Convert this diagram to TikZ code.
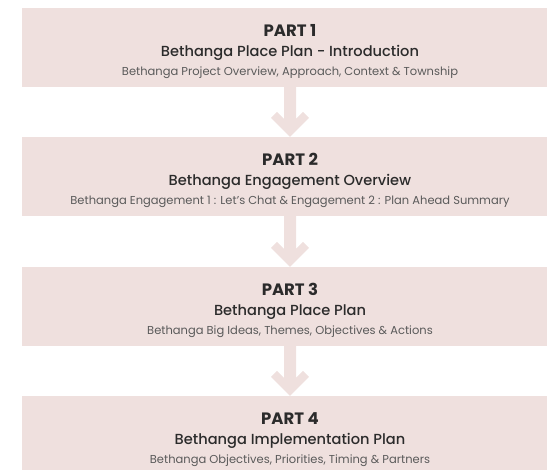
\documentclass[tikz,border=0pt]{standalone}
\usepackage{fontspec}
\setmainfont{Poppins}
\newfontfamily\mediumfont{Poppins Medium}
\usetikzlibrary{positioning}
\definecolor{partFill}{HTML}{EFE0DE}
\definecolor{titleInk}{HTML}{2B2B2B}
\definecolor{detailInk}{HTML}{5A5A5A}

\begin{document}
\begin{tikzpicture}
[x=1pt,y=-1pt,
  boxDecorate/.style={shape=rectangle,fill=partFill,inner sep=0pt,
    minimum width=536pt,minimum height=79pt},%
  titleDecorate/.style={anchor=base,inner sep=0pt,text=titleInk,
    font=\fontsize{16.5}{18}\selectfont\bfseries},%
  headingDecorate/.style={anchor=base,inner sep=0pt,text=titleInk,
    font=\fontsize{14.6}{16}\selectfont\mediumfont},%
  detailDecorate/.style={anchor=base,inner sep=0pt,text=detailInk,
    font=\fontsize{11.5}{13}\selectfont},%
  arrowDecorate/.style={fill=partFill}]
\useasboundingbox (0,0) rectangle (547,470);
%% boxes and their texts
\foreach \partnum/\ypos/\heading/\detail in {
  1/47.5/{Bethanga Place Plan - Introduction}/{Bethanga Project Overview, Approach, Context \& Township},
  2/176.5/{Bethanga Engagement Overview}/{Bethanga Engagement 1 : Let’s Chat \& Engagement 2 : Plan Ahead Summary},
  3/306.5/{Bethanga Place Plan}/{Bethanga Big Ideas, Themes, Objectives \& Actions},
  4/435.5/{Bethanga Implementation Plan}/{Bethanga Objectives, Priorities, Timing \& Partners}}
{
  \node (part\partnum) at (290,\ypos) [boxDecorate] {};
  \node (title\partnum) at ([yshift=-28.5pt]part\partnum.north) [titleDecorate] {PART \partnum};
  \node (heading\partnum) at ([yshift=-48.5pt]part\partnum.north) [headingDecorate] {\heading};
  \node (detail\partnum) at ([yshift=-68pt]part\partnum.north) [detailDecorate] {\detail};
}
%% arrows between the boxes
\foreach \a/\b in {1/2, 2/3, 3/4}
{
  \fill[arrowDecorate] ([xshift=-6pt]part\a.south) -- ([xshift=-6pt,yshift=18pt]part\b.north)
    -- ([xshift=-13pt,yshift=25pt]part\b.north) -- ([xshift=-19pt,yshift=19pt]part\b.north)
    -- (part\b.north) -- ([xshift=19pt,yshift=19pt]part\b.north)
    -- ([xshift=13pt,yshift=25pt]part\b.north) -- ([xshift=6pt,yshift=18pt]part\b.north)
    -- ([xshift=6pt]part\a.south) -- cycle;
}
\end{tikzpicture}
\end{document}
